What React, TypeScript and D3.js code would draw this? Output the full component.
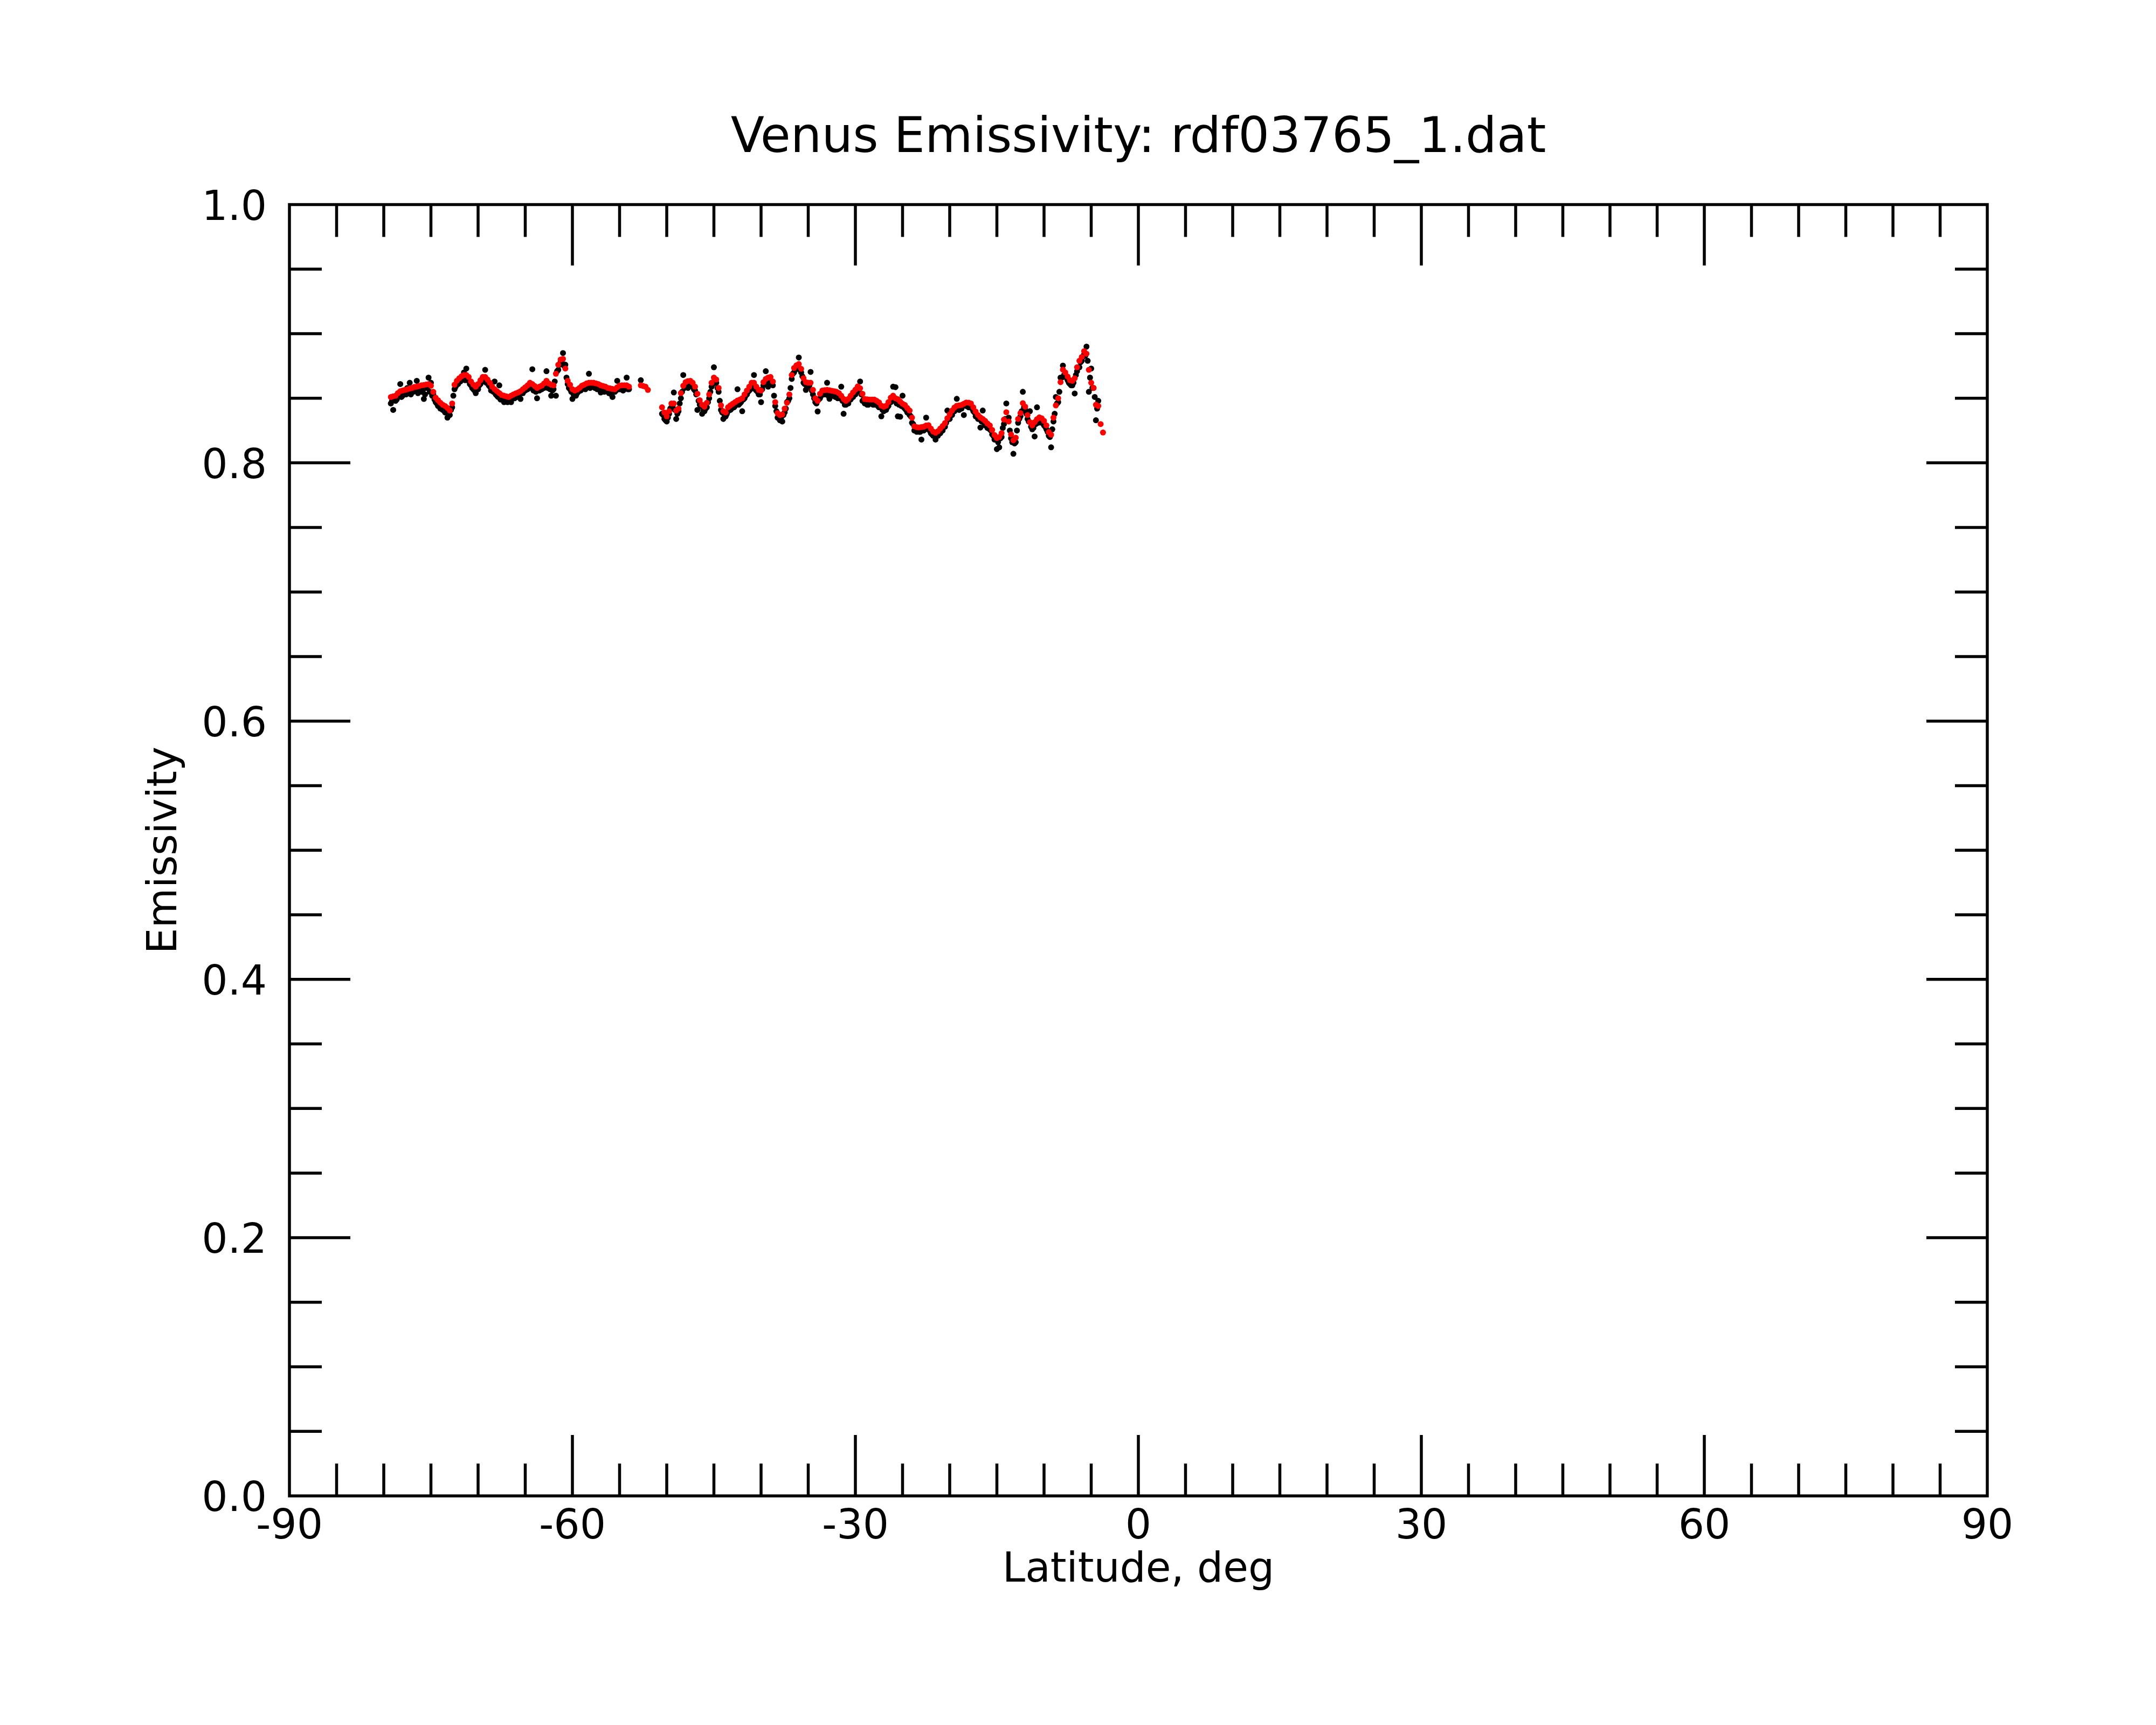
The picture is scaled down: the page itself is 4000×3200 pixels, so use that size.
import React, { useEffect, useRef } from "react";
import * as d3 from "d3";

// Venus emissivity vs latitude: raw samples (black) and smoothed (red)

const TITLE = "Venus Emissivity: rdf03765_1.dat";
const X_LABEL = "Latitude, deg";
const Y_LABEL = "Emissivity";

const X_TICKS = [-90, -60, -30, 0, 30, 60, 90];
const Y_TICKS = [0.0, 0.2, 0.4, 0.6, 0.8, 1.0];

// samples are on a 0.25 deg latitude grid
const LAT_STEP = 0.25;

// smoothed emissivity (red)
const RED_A_START = -79.25;
const RED_A = [
    0.851, 0.8515, 0.852, 0.854, 0.8555, 0.856, 0.8565, 0.857, 0.8575, 0.858,
    0.8588, 0.859, 0.8595, 0.86, 0.8603, 0.8607, 0.861, 0.8597, 0.855, 0.8505,
    0.8485, 0.8465, 0.845, 0.844, 0.8425, 0.8405, 0.846, 0.8605, 0.8635, 0.8655,
    0.867, 0.868, 0.868, 0.8665, 0.863, 0.8605, 0.859, 0.861, 0.864, 0.8665,
    0.8665, 0.8645, 0.862, 0.859, 0.857, 0.8555, 0.854, 0.8525, 0.852, 0.8515,
    0.851, 0.852, 0.853, 0.8538, 0.8545, 0.8555, 0.857, 0.8585, 0.86, 0.862,
    0.861, 0.8595, 0.858, 0.859, 0.8598, 0.8615, 0.8635, 0.8615, 0.8605, 0.86,
    0.869, 0.876, 0.88, 0.8805, 0.873, 0.8635, 0.8605, 0.857, 0.856, 0.8567,
    0.858, 0.8597, 0.8605, 0.8615, 0.862, 0.862, 0.862, 0.8615, 0.861, 0.86,
    0.8595, 0.859, 0.858, 0.8577, 0.8572, 0.857, 0.8585, 0.8598, 0.86, 0.86,
    0.86, 0.859,
];
const RED_B_START = -52.75;
const RED_B = [0.86, 0.8595, 0.859, 0.8565];
const RED_C_START = -50.5;
const RED_C = [
    0.843, 0.839, 0.836, 0.84, 0.846, 0.846, 0.8405, 0.842, 0.854, 0.8597,
    0.8625, 0.8633, 0.8635, 0.862, 0.859, 0.8535, 0.8485, 0.845, 0.8435, 0.8465,
    0.853, 0.862, 0.866, 0.8645, 0.858, 0.8445, 0.84, 0.839, 0.843, 0.8445,
    0.8458, 0.847, 0.8483, 0.849, 0.85, 0.853, 0.856, 0.859, 0.862, 0.862,
    0.859, 0.8565, 0.856, 0.8625, 0.865, 0.866, 0.8665, 0.863, 0.847, 0.8385,
    0.837, 0.8375, 0.842, 0.8465, 0.853, 0.868, 0.8735, 0.8755, 0.8765, 0.8728,
    0.8655, 0.8625, 0.862, 0.862, 0.8565, 0.85, 0.848, 0.8535, 0.856, 0.8563,
    0.8565, 0.8562, 0.8558, 0.8555, 0.855, 0.854, 0.852, 0.8495, 0.848, 0.8495,
    0.852, 0.8545, 0.8567, 0.8592, 0.8578, 0.8535, 0.8494, 0.8492, 0.849, 0.849,
    0.849, 0.848, 0.8468, 0.8443, 0.8435, 0.8442, 0.847, 0.8505, 0.852, 0.85,
    0.8493, 0.8475, 0.8458, 0.8448, 0.8425, 0.8405, 0.835, 0.8283, 0.8276, 0.8274,
    0.8277, 0.828, 0.8289, 0.8292, 0.8265, 0.8242, 0.8233, 0.8245, 0.8265, 0.8285,
    0.8308, 0.8345, 0.8375, 0.8405, 0.8428, 0.8442, 0.8445, 0.8448, 0.8458, 0.8467,
    0.8466, 0.846, 0.843, 0.8397, 0.837, 0.8352, 0.834, 0.8325, 0.8305, 0.829,
    0.8255, 0.8215, 0.8192, 0.82, 0.823, 0.8335, 0.8392, 0.832, 0.822, 0.8175,
    0.8195, 0.834, 0.8385, 0.8462, 0.8435, 0.837, 0.8315, 0.829, 0.8315, 0.8338,
    0.8352, 0.8345, 0.8325, 0.829, 0.8238, 0.8218, 0.835, 0.8445, 0.85, 0.8625,
    0.8722, 0.87, 0.8668, 0.864, 0.8635, 0.8655, 0.874, 0.879, 0.882, 0.8865,
    0.8845, 0.872, 0.862, 0.858, 0.845, 0.844, 0.83, 0.8235,
];

// raw emissivity (black), on the grid
const BLACK_A_START = -79.25;
const BLACK_A = [
    0.846, 0.841, 0.848, 0.853, 0.861, 0.852, 0.855, 0.858, 0.862, 0.855,
    0.857, 0.8635, 0.857, 0.855, 0.8495, 0.858, 0.866, 0.862, 0.853, 0.847,
    0.844, 0.842, 0.841, 0.839, 0.835, 0.837, 0.843, 0.857, 0.862, 0.864,
    0.866, 0.87, 0.873, 0.864, 0.86, 0.857, 0.854, 0.857, 0.861, 0.866,
    0.872, 0.862, 0.859, 0.8565, 0.863, 0.852, 0.86, 0.85, 0.847, 0.849,
    0.848, 0.847, 0.85, 0.851, 0.852, 0.8495, 0.854, 0.856, 0.857, 0.859,
    0.8725, 0.857, 0.85, 0.856, 0.857, 0.858, 0.871, 0.859, 0.852, 0.857,
    0.852, 0.872, 0.878, 0.885, 0.876, 0.861, 0.857, 0.8495, 0.853, 0.854,
    0.856, 0.857, 0.858, 0.859, 0.869, 0.859, 0.86, 0.858, 0.858, 0.8545,
    0.857, 0.856, 0.855, 0.855, 0.851, 0.855, 0.8635, 0.857, 0.857, 0.858,
    0.866, 0.857,
];
const BLACK_B_START = -52.75;
const BLACK_B = [0.864];
const BLACK_C_START = -50.5;
const BLACK_C = [
    0.838, 0.834, 0.832, 0.838, 0.843, 0.8545, 0.834, 0.84, 0.85, 0.868,
    0.86, 0.858, 0.862, 0.859, 0.856, 0.841, 0.845, 0.838, 0.84, 0.843,
    0.85, 0.859, 0.874, 0.862, 0.855, 0.841, 0.834, 0.836, 0.84, 0.841,
    0.843, 0.844, 0.857, 0.846, 0.84, 0.85, 0.853, 0.856, 0.859, 0.868,
    0.856, 0.853, 0.847, 0.86, 0.871, 0.859, 0.864, 0.86, 0.844, 0.835,
    0.833, 0.832, 0.839, 0.847, 0.85, 0.865, 0.87, 0.873, 0.8816, 0.87,
    0.862, 0.8565, 0.859, 0.8704, 0.853, 0.847, 0.8398, 0.85, 0.853, 0.853,
    0.862, 0.8496, 0.852, 0.852, 0.851, 0.851, 0.859, 0.838, 0.845, 0.846,
    0.849, 0.851, 0.853, 0.856, 0.863, 0.848, 0.846, 0.845, 0.846, 0.846,
    0.845, 0.845, 0.843, 0.836, 0.84, 0.841, 0.844, 0.847, 0.859, 0.8586,
    0.836, 0.8357, 0.852, 0.842, 0.839, 0.837, 0.831, 0.825, 0.824, 0.824,
    0.818, 0.825, 0.835, 0.826, 0.823, 0.821, 0.818, 0.821, 0.823, 0.825,
    0.828, 0.8405, 0.834, 0.837, 0.84, 0.8496, 0.841, 0.842, 0.837, 0.844,
    0.843, 0.843, 0.84, 0.836, 0.834, 0.8273, 0.8405, 0.829, 0.827, 0.826,
    0.822, 0.818, 0.8106, 0.812, 0.82, 0.83, 0.846, 0.835, 0.819, 0.807,
    0.816, 0.831, 0.836, 0.855, 0.841, 0.834, 0.84, 0.826, 0.8204, 0.843,
    0.832, 0.831, 0.829, 0.826, 0.821, 0.812, 0.832, 0.851, 0.847, 0.866,
    0.8753, 0.867, 0.864, 0.861, 0.86, 0.8537, 0.871, 0.874, 0.879, 0.884,
    0.89, 0.855, 0.873, 0.858, 0.833, 0.848,
];

// raw emissivity (black), samples half-way between grid points
const BLACK_D_START = -79.125;
const BLACK_D = [
    0.848, 0.85, 0.849, 0.852, 0.851, 0.854, 0.853, 0.856, 0.853, 0.855,
    0.856, 0.854, 0.857, 0.856, 0.853, 0.858, 0.855, 0.852, 0.849, 0.846,
    0.845, 0.843, 0.842, 0.84, 0.838, 0.841, 0.852, 0.859, 0.861, 0.863,
    0.865, 0.864, 0.864, 0.861, 0.858, 0.856, 0.857, 0.86, 0.863, 0.863,
    0.862, 0.86, 0.856, 0.855, 0.853, 0.851, 0.849, 0.849, 0.848, 0.847,
    0.849, 0.85, 0.85, 0.851, 0.853, 0.854, 0.856, 0.858, 0.859, 0.858,
    0.856, 0.855, 0.856, 0.857, 0.859, 0.861, 0.858, 0.857, 0.856, 0.863,
    0.871, 0.876, 0.879, 0.875, 0.866, 0.858, 0.855, 0.853, 0.852, 0.855,
    0.856, 0.858, 0.857, 0.86, 0.858, 0.859, 0.858, 0.857, 0.857, 0.856,
    0.855, 0.856, 0.854, 0.853, 0.855, 0.856, 0.858, 0.857, 0.856, 0.858,
    0.857,
];
const BLACK_E_START = -50.375;
const BLACK_E = [
    0.837, 0.833, 0.835, 0.842, 0.844, 0.841, 0.838, 0.846, 0.855, 0.858,
    0.86, 0.861, 0.86, 0.857, 0.853, 0.848, 0.844, 0.841, 0.842, 0.847,
    0.855, 0.861, 0.862, 0.858, 0.848, 0.839, 0.837, 0.838, 0.841, 0.842,
    0.843, 0.845, 0.845, 0.847, 0.849, 0.852, 0.855, 0.857, 0.859, 0.857,
    0.855, 0.853, 0.857, 0.861, 0.862, 0.863, 0.862, 0.852, 0.84, 0.835,
    0.835, 0.837, 0.842, 0.848, 0.858, 0.869, 0.872, 0.873, 0.872, 0.867,
    0.861, 0.859, 0.86, 0.856, 0.85, 0.846, 0.849, 0.852, 0.853, 0.853,
    0.852, 0.853, 0.852, 0.851, 0.85, 0.85, 0.848, 0.845, 0.846, 0.849,
    0.851, 0.853, 0.855, 0.856, 0.853, 0.849, 0.847, 0.845, 0.846, 0.845,
    0.846, 0.844, 0.843, 0.841, 0.841, 0.843, 0.847, 0.849, 0.848, 0.846,
    0.845, 0.844, 0.843, 0.841, 0.839, 0.836, 0.83, 0.825, 0.825, 0.824,
    0.825, 0.826, 0.827, 0.825, 0.822, 0.821, 0.821, 0.823, 0.825, 0.828,
    0.831, 0.834, 0.837, 0.84, 0.841, 0.842, 0.843, 0.844, 0.845, 0.844,
    0.843, 0.842, 0.839, 0.836, 0.834, 0.832, 0.831, 0.829, 0.827, 0.825,
    0.821, 0.818, 0.816, 0.819, 0.827, 0.834, 0.834, 0.825, 0.816, 0.815,
    0.825, 0.834, 0.84, 0.843, 0.838, 0.832, 0.828, 0.827, 0.83, 0.831,
    0.832, 0.831, 0.828, 0.824, 0.82, 0.826, 0.838, 0.846, 0.855, 0.866,
    0.868, 0.866, 0.862, 0.86, 0.862, 0.868, 0.874, 0.878, 0.882, 0.883,
    0.879, 0.866, 0.858, 0.851, 0.842,
];

interface Pt {
    lat: number;
    em: number;
}

const toPoints = (start: number, values: number[]): Pt[] =>
    values.map((em, i) => ({ lat: start + i * LAT_STEP, em }));

const BLACK_PTS = [
    ...toPoints(BLACK_A_START, BLACK_A),
    ...toPoints(BLACK_B_START, BLACK_B),
    ...toPoints(BLACK_C_START, BLACK_C),
    ...toPoints(BLACK_D_START, BLACK_D),
    ...toPoints(BLACK_E_START, BLACK_E),
];
const RED_PTS = [
    ...toPoints(RED_A_START, RED_A),
    ...toPoints(RED_B_START, RED_B),
    ...toPoints(RED_C_START, RED_C),
];

const FONT = "'DejaVu Sans', Verdana, sans-serif";

const App: React.FC = () => {
    const svgRef = useRef<SVGSVGElement>(null);

    useEffect(() => {
        document.body.style.margin = "0";
        if (!svgRef.current) return;

        const W = 4000;
        const H = 3200;
        const L = 537, R = 3687, T = 379.5, B = 2775;
        const SW = 5.5;
        const MAJOR = 113;
        const MINOR = 60;

        const svg = d3.select(svgRef.current);
        svg.selectAll("*").remove();
        svg.attr("width", W).attr("height", H).attr("viewBox", `0 0 ${W} ${H}`);

        svg.append("rect").attr("width", W).attr("height", H).attr("fill", "#fff");

        const x = d3.scaleLinear().domain([-90, 90]).range([L, R]);
        const y = d3.scaleLinear().domain([0, 1]).range([B, T]);

        // Points: raw first, smoothed on top
        svg.append("g")
            .selectAll("circle")
            .data(BLACK_PTS)
            .enter()
            .append("circle")
            .attr("cx", (d) => x(d.lat))
            .attr("cy", (d) => y(d.em))
            .attr("r", 5.5)
            .attr("fill", "#000");

        svg.append("g")
            .selectAll("circle")
            .data(RED_PTS)
            .enter()
            .append("circle")
            .attr("cx", (d) => x(d.lat))
            .attr("cy", (d) => y(d.em))
            .attr("r", 5.5)
            .attr("fill", "#ff0000");

        // Ticks on all four sides
        const ticks = svg.append("g").attr("stroke", "#000").attr("stroke-width", SW);
        const xMajor = new Set(X_TICKS);
        d3.range(-85, 90, 5).forEach((v) => {
            const len = xMajor.has(v) ? MAJOR : MINOR;
            ticks.append("line").attr("x1", x(v)).attr("x2", x(v)).attr("y1", B).attr("y2", B - len);
            ticks.append("line").attr("x1", x(v)).attr("x2", x(v)).attr("y1", T).attr("y2", T + len);
        });
        d3.range(1, 20).forEach((k) => {
            const v = k * 0.05;
            const len = k % 4 === 0 ? MAJOR : MINOR;
            ticks.append("line").attr("x1", L).attr("x2", L + len).attr("y1", y(v)).attr("y2", y(v));
            ticks.append("line").attr("x1", R).attr("x2", R - len).attr("y1", y(v)).attr("y2", y(v));
        });

        // Frame
        svg.append("rect")
            .attr("x", L).attr("y", T)
            .attr("width", R - L).attr("height", B - T)
            .attr("fill", "none")
            .attr("stroke", "#000")
            .attr("stroke-width", SW);

        // Tick labels
        const labels = svg.append("g").attr("font-family", FONT).attr("font-size", 76).attr("fill", "#000");
        X_TICKS.forEach((v) => {
            labels.append("text")
                .attr("x", x(v)).attr("y", 2854)
                .attr("text-anchor", "middle")
                .text(String(v));
        });
        Y_TICKS.forEach((v) => {
            labels.append("text")
                .attr("x", 495).attr("y", y(v) + 28)
                .attr("text-anchor", "end")
                .text(d3.format(".1f")(v));
        });

        // Titles
        svg.append("text")
            .attr("x", (L + R) / 2).attr("y", 282)
            .attr("text-anchor", "middle")
            .attr("font-family", FONT).attr("font-size", 91)
            .text(TITLE);

        svg.append("text")
            .attr("x", (L + R) / 2).attr("y", 2934)
            .attr("text-anchor", "middle")
            .attr("font-family", FONT).attr("font-size", 76)
            .text(X_LABEL);

        svg.append("text")
            .attr("transform", `translate(327,${(T + B) / 2}) rotate(-90)`)
            .attr("text-anchor", "middle")
            .attr("font-family", FONT).attr("font-size", 76)
            .text(Y_LABEL);
    }, []);

    return <svg ref={svgRef} style={{ display: "block" }} />;
};

export default App;
